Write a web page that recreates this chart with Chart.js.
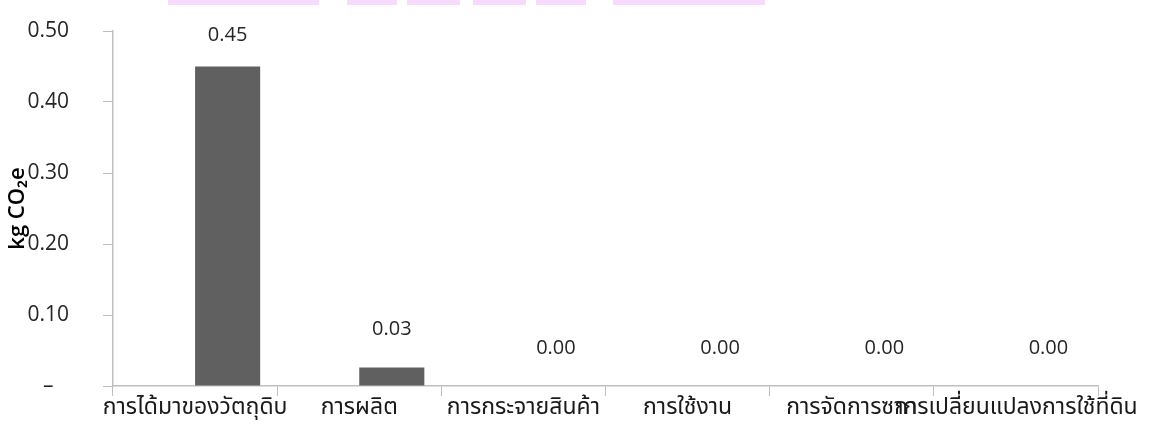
<!DOCTYPE html>
<html>
<head>
<meta charset="utf-8">
<script src="https://cdn.jsdelivr.net/npm/chart.js@4"></script>
<style>
  html, body { margin: 0; padding: 0; background: #fff; }
  #wrap { position: relative; width: 1162px; height: 439px; overflow: hidden; }
  .faixa { position: absolute; top: 0; height: 5px; background: #f5dcfb; }
</style>
</head>
<body>
<div id="wrap">
  <canvas id="grafico" width="1162" height="439"></canvas>
</div>
<script>
// categorias e valores
const categorias = ['การได้มาของวัตถุดิบ', 'การผลิต', 'การกระจายสินค้า', 'การใช้งาน', 'การจัดการซาก', 'การเปลี่ยนแปลงการใช้ที่ดิน'];
const valoresVazios = [null, null, null, null, null, null]; // primeira série, sem barras visíveis
const valoresCO2 = [0.45, 0.026, 0, 0, 0, 0];
const rotulosEixoY = ['–', '0.10', '0.20', '0.30', '0.40', '0.50'];

// faixas rosadas no topo (resto de um título cortado)
const faixas = [[168, 319], [347, 397], [407, 460], [473, 526], [536, 586], [613, 765]];
faixas.forEach(([x1, x2]) => {
    const d = document.createElement('div');
    d.className = 'faixa';
    d.style.left = x1 + 'px';
    d.style.width = (x2 - x1) + 'px';
    document.querySelector('#wrap').appendChild(d);
});

const fonteNum = '"Open Sans", "Noto Sans", sans-serif';
const fonteThai = '"Noto Sans Thai", "Noto Sans", Tahoma, sans-serif';

// escreve o valor acima de cada barra da segunda série
const rotulosBarras = {
    id: 'rotulosBarras',
    afterDatasetsDraw(chart) {
        const ctx = chart.ctx;
        const meta = chart.getDatasetMeta(1);
        ctx.save();
        ctx.font = '20px ' + fonteNum;
        ctx.fillStyle = '#262626';
        ctx.textAlign = 'center';
        ctx.textBaseline = 'middle';
        meta.data.forEach((barra, i) => {
            const y = Math.max(barra.y - 38, 35);
            ctx.fillText(valoresCO2[i].toFixed(2), barra.x, y);
        });
        ctx.restore();
    }
};

const grafico = new Chart(document.querySelector('#grafico'), {
    type: 'bar',
    data: {
        labels: categorias,
        datasets: [{
            label: 'vazio',
            data: valoresVazios,
            backgroundColor: 'rgba(0,0,0,0)'
        }, {
            label: 'kg CO2e',
            data: valoresCO2,
            backgroundColor: '#606060'
        }]
    },
    options: {
        responsive: false,
        animation: false,
        layout: { padding: { top: 31, right: 64, bottom: 0, left: 0 } },
        datasets: { bar: { categoryPercentage: 0.793, barPercentage: 1 } },
        plugins: {
            legend: { display: false },
            tooltip: { enabled: false }
        },
        scales: {
            x: {
                grid: { display: true, drawOnChartArea: false, color: '#bfbfbf', tickLength: 10, offset: true },
                border: { color: '#bfbfbf', width: 1.5 },
                ticks: {
                    autoSkip: false, maxRotation: 0, minRotation: 0, padding: 0,
                    color: '#1a1a1a', font: { family: fonteThai, size: 23 }
                },
                afterFit: (escala) => { escala.height = 53; }
            },
            y: {
                min: 0, max: 0.5,
                grid: { display: true, drawOnChartArea: false, color: '#bfbfbf', tickLength: 10 },
                border: { color: '#bfbfbf', width: 1.5 },
                ticks: {
                    stepSize: 0.1, crossAlign: 'center', padding: 34,
                    color: '#262626', font: { family: fonteNum, size: 21 },
                    callback: (valor, indice) => rotulosEixoY[indice]
                },
                title: {
                    display: true, text: 'kg CO₂e', color: '#000',
                    font: { family: fonteNum, size: 22, weight: '600' },
                    padding: { top: 5, bottom: 0 }
                },
                // o padding dos rótulos empurrava a área do gráfico para baixo
                afterFit: (escala) => {
                    escala.width = 113;
                    escala.paddingTop = 0;
                    escala.paddingBottom = 0;
                }
            }
        }
    },
    plugins: [rotulosBarras]
});
</script>
</body>
</html>
